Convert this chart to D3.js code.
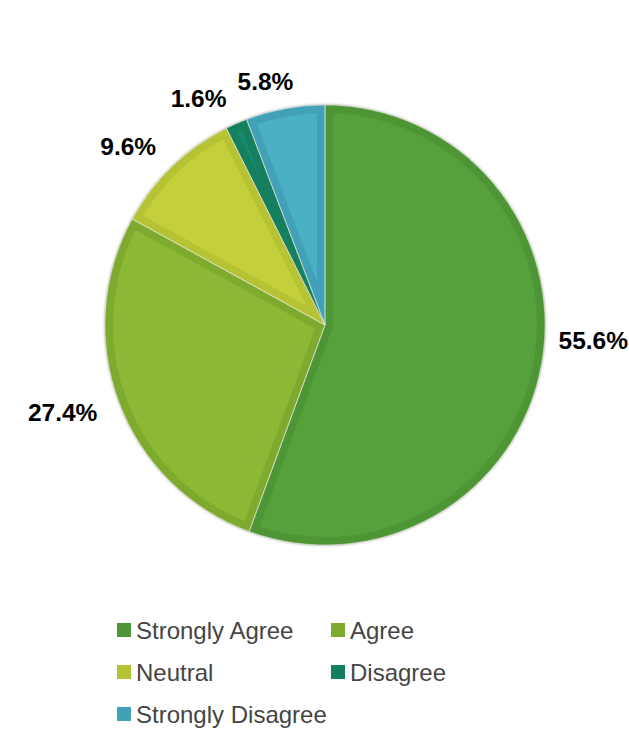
<!DOCTYPE html>
<html>
<head>
<meta charset="utf-8">
<script src="https://cdn.jsdelivr.net/npm/d3@7"></script>
<style>
  html, body { margin: 0; padding: 0; background: #fff; }
  svg { display: block; }
</style>
</head>
<body>
<svg id="chart" width="629" height="729"></svg>
<script>
// Survey responses, shares in percent
const categories = ["Strongly Agree", "Agree", "Neutral", "Disagree", "Strongly Disagree"];
const shares = [55.6, 27.4, 9.6, 1.6, 5.8];
const fills = ["#56a13b", "#8bb834", "#c3d03b", "#178b6c", "#4bb0c6"];
const bands = ["#4e9535", "#7eaa2e", "#b5c336", "#137f61", "#43a1b6"];

const W = 629, H = 729;
const cx = 325, cy = 325, R = 220;

const svg = d3.select("#chart");
const defs = svg.append("defs");

const shadow = defs.append("filter").attr("id", "pieShadow")
  .attr("x", "-10%").attr("y", "-10%").attr("width", "120%").attr("height", "120%");
shadow.append("feGaussianBlur").attr("in", "SourceAlpha").attr("stdDeviation", 1.6).attr("result", "b");
shadow.append("feComponentTransfer").attr("in", "b").attr("result", "s")
  .append("feFuncA").attr("type", "linear").attr("slope", 0.45);
const merge = shadow.append("feMerge");
merge.append("feMergeNode").attr("in", "s");
merge.append("feMergeNode").attr("in", "SourceGraphic");

const pie = d3.pie().sort(null).value(d => d.value).startAngle(0).endAngle(2 * Math.PI);
const data = categories.map((c, i) => ({ name: c, value: shares[i], i }));
const arcs = pie(data);

const arc = d3.arc().innerRadius(0).outerRadius(R);

// clip paths so the darker band stays inside each slice
defs.selectAll("clipPath.slice").data(arcs).join("clipPath")
  .attr("class", "slice")
  .attr("id", d => "clip" + d.data.i)
  .append("path")
  .attr("d", arc);

const g = svg.append("g").attr("transform", `translate(${cx},${cy})`);

const pieG = g.append("g").attr("filter", "url(#pieShadow)");

pieG.selectAll("g.slice").data(arcs).join("g")
  .attr("class", "slice")
  .attr("clip-path", d => `url(#clip${d.data.i})`)
  .append("path")
  .attr("d", arc)
  .attr("fill", d => fills[d.data.i])
  .attr("stroke", d => bands[d.data.i])
  .attr("stroke-width", 16)
  .attr("stroke-linejoin", "miter");

// thin separators between slices
g.selectAll("path.sep").data(arcs).join("path")
  .attr("class", "sep")
  .attr("d", arc)
  .attr("fill", "none")
  .attr("stroke", "#e8eadf")
  .attr("stroke-width", 0.7)
  .attr("stroke-opacity", 0.8);

// percentage labels placed outside the slices, kept inside the canvas
const labelFont = 24.5;
const labelR = R + 22;
const measure = svg.append("text")
  .attr("font-family", "Liberation Sans, Arial, sans-serif")
  .attr("font-weight", "bold")
  .attr("font-size", labelFont)
  .attr("visibility", "hidden");

arcs.forEach(d => {
  const label = d.data.value.toFixed(1) + "%";
  measure.text(label);
  const w = measure.node().getComputedTextLength();
  const mid = (d.startAngle + d.endAngle) / 2;
  const s = Math.sin(mid), c = Math.cos(mid);
  const px = labelR * s, py = -labelR * c;
  const hw = w / 2 + 1, hh = labelFont * 0.43;
  let bx = px + hw * Math.max(-1, Math.min(1, 3 * s));
  let by = py - 0.6 * c * hh;
  const maxX = W - cx - hw, minX = -cx + hw;
  if (bx > maxX) {
    // pushed in from the right edge: slide up along the rim
    const over = bx - maxX;
    bx = maxX;
    by -= over * 5;
  }
  if (bx < minX) bx = minX;
  g.append("text")
    .attr("x", bx)
    .attr("y", by)
    .attr("dy", "0.36em")
    .attr("text-anchor", "middle")
    .attr("font-family", "Liberation Sans, Arial, sans-serif")
    .attr("font-weight", "bold")
    .attr("font-size", labelFont)
    .attr("fill", "#000")
    .text(label);
});
measure.remove();

// legend: two columns
const legend = svg.append("g").attr("transform", "translate(117,630)");
const colX = [0, 214];
const rowH = 42;
const item = legend.selectAll("g.item").data(categories).join("g")
  .attr("class", "item")
  .attr("transform", (d, i) => `translate(${colX[i % 2]},${Math.floor(i / 2) * rowH})`);

item.append("rect")
  .attr("x", 0).attr("y", -7)
  .attr("width", 14).attr("height", 14)
  .attr("fill", (d, i) => bands[i]);

item.append("text")
  .attr("x", 19)
  .attr("y", 0)
  .attr("dy", "0.36em")
  .attr("font-family", "Liberation Sans, Arial, sans-serif")
  .attr("font-size", 24)
  .attr("fill", "#454545")
  .text(d => d);
</script>
</body>
</html>
